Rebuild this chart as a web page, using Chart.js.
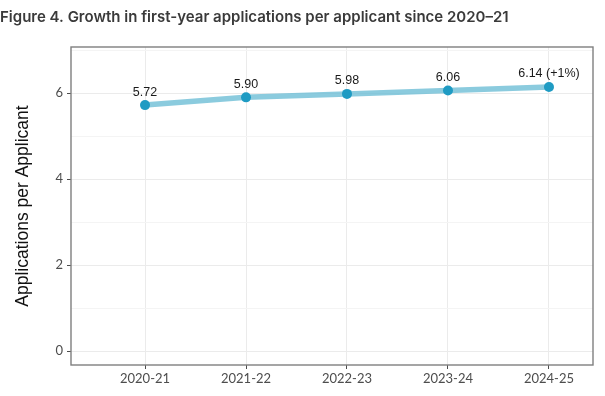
<!DOCTYPE html>
<html>
<head>
<meta charset="utf-8">
<script src="https://cdn.jsdelivr.net/npm/chart.js@4/dist/chart.umd.min.js"></script>
<style>
  html, body { margin: 0; padding: 0; background: #fff; }
  #wrap { width: 605px; height: 396px; }
</style>
</head>
<body>
<div id="wrap"><canvas id="chart-area"></canvas></div>
<script>
/* Applications per applicant */

const years = ["2020-21", "2021-22", "2022-23", "2023-24", "2024-25"];
const perApplicant = [5.72, 5.9, 5.98, 6.06, 6.14];
const pointLabels = ["5.72", "5.90", "5.98", "6.06", "6.14 (+1%)"];
const yTicks = [0, 1, 2, 3, 4, 5, 6, 7];
const yLabelled = [0, 2, 4, 6];

const tickFont = { family: "Lato", size: 13 };

// labels above each point
const pointLabelPlugin = {
  id: "pointLabels",
  afterDatasetsDraw(chart) {
    const ctx = chart.ctx;
    const meta = chart.getDatasetMeta(0);
    ctx.save();
    ctx.font = "12.5px 'Liberation Sans', Arial, sans-serif";
    ctx.fillStyle = "#1a1a1a";
    ctx.textAlign = "center";
    ctx.textBaseline = "middle";
    meta.data.forEach((pt, i) => {
      ctx.fillText(pointLabels[i], pt.x, pt.y - 13);
    });
    ctx.restore();
  },
};

// panel border like a ggplot theme_bw
const panelBorder = {
  id: "panelBorder",
  afterDraw(chart) {
    const a = chart.chartArea;
    const ctx = chart.ctx;
    ctx.save();
    ctx.strokeStyle = "#7f7f7f";
    ctx.lineWidth = 1.4;
    ctx.strokeRect(a.left, a.top, a.right - a.left, a.bottom - a.top);
    ctx.restore();
  },
};

let config = {
  type: "line",
  data: {
    datasets: [
      {
        data: years.map((y, i) => ({ x: i, y: perApplicant[i] })),
        borderColor: "rgba(110, 190, 214, 0.8)",
        borderWidth: 5.5,
        pointRadius: 5,
        pointHoverRadius: 5,
        pointBackgroundColor: "#1f9bc3",
        pointBorderWidth: 0,
        tension: 0,
      },
    ],
  },
  options: {
    responsive: true,
    maintainAspectRatio: false,
    animation: false,
    layout: { padding: { left: 0, right: 12, top: 0, bottom: 0 } },
    plugins: {
      legend: { display: false },
      tooltip: { enabled: false },
      title: {
        display: true,
        text: "Figure 4. Growth in first-year applications per applicant since 2020\u201321",
        align: "start",
        color: "#3a3a3a",
        font: { family: "Inter", size: 15, weight: "600" },
        padding: { top: 8, bottom: 21 },
      },
    },
    scales: {
      x: {
        type: "linear",
        min: -0.733,
        max: 4.436,
        afterBuildTicks: (s) => {
          s.ticks = years.map((y, i) => ({ value: i }));
        },
        afterFit: (s) => {
          s.height = 31;
        },
        ticks: {
          callback: (v) => years[v],
          color: "#4d4d4d",
          font: tickFont,
          padding: 2,
          maxRotation: 0,
        },
        grid: {
          color: "#ebebeb",
          lineWidth: 1,
          tickColor: "#4d4d4d",
          tickLength: 4,
        },
        border: { display: false },
      },
      y: {
        min: -0.32,
        max: 7.07,
        afterBuildTicks: (s) => {
          s.ticks = yTicks.map((v) => ({ value: v }));
        },
        afterFit: (s) => {
          s.width = 71;
        },
        ticks: {
          callback: (v) => (yLabelled.includes(v) ? String(v) : ""),
          color: "#4d4d4d",
          font: tickFont,
          padding: 4,
        },
        grid: {
          color: (c) => (yLabelled.includes(c.tick.value) ? "#ebebeb" : "#f4f4f4"),
          lineWidth: 1,
          tickColor: (c) => (yLabelled.includes(c.tick.value) ? "#4d4d4d" : "rgba(0,0,0,0)"),
          tickLength: 4,
        },
        border: { display: false },
        title: {
          display: true,
          text: "Applications per Applicant",
          color: "#111",
          font: { family: "'Liberation Sans', Arial, sans-serif", size: 17.5 },
          padding: { top: 13, bottom: 0 },
        },
      },
    },
  },
  plugins: [pointLabelPlugin, panelBorder],
};

window.onload = function () {
  let ctx = document.getElementById("chart-area").getContext("2d");
  window.myLine = new Chart(ctx, config);
};
</script>
</body>
</html>
